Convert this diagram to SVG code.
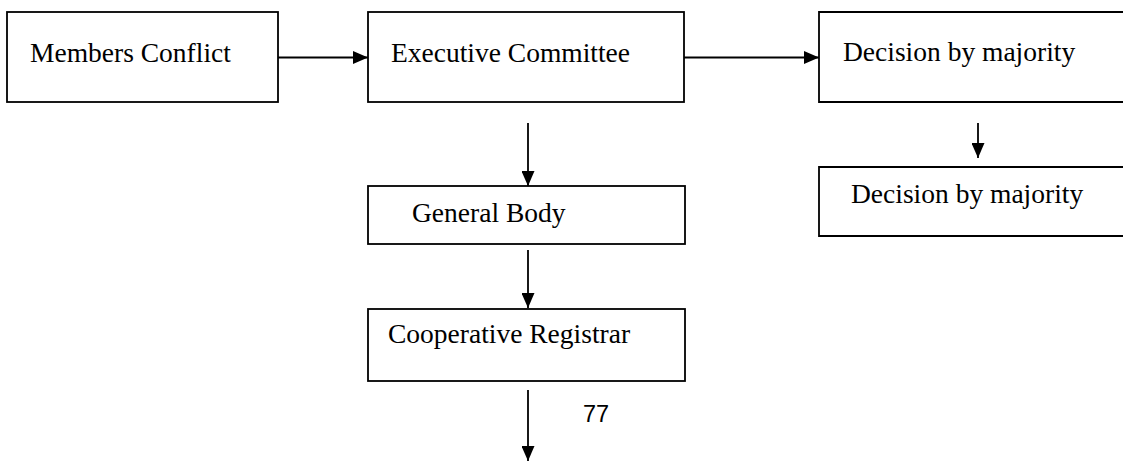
<svg xmlns="http://www.w3.org/2000/svg" width="1123" height="461" viewBox="0 0 1123 461">
<style>
.box{fill:#fff;stroke:#000;stroke-width:1.8}
.t{font-family:"Liberation Serif","Times New Roman",serif;font-size:27.5px;fill:#000}
.c{stroke:#000;stroke-width:1.8;fill:none;marker-end:url(#ah)}
.n{font-family:"Liberation Sans",Arial,sans-serif;font-size:23.5px;fill:#000}
</style>
<defs>
<marker id="ah" markerUnits="userSpaceOnUse" markerWidth="16" markerHeight="13" refX="15" refY="6.5" orient="auto">
<path d="M0,0 L15,6.5 L0,13 Z" fill="#000"/>
</marker>
</defs>
<rect width="1123" height="461" fill="#fff"/>
<g id="connectors">
<line class="c" x1="278" y1="57.5" x2="368" y2="57.5"/>
<line class="c" x1="684" y1="57.5" x2="819" y2="57.5"/>
<line class="c" x1="528" y1="123" x2="528" y2="186"/>
<line class="c" x1="528" y1="250" x2="528" y2="308"/>
<line class="c" x1="528" y1="390" x2="528" y2="461"/>
<line class="c" x1="978" y1="123" x2="978" y2="158"/>
</g>
<g id="members">
<rect class="box" x="7" y="12" width="271" height="90"/>
<text class="t" x="30" y="62">Members Conflict</text>
</g>
<g id="executive">
<rect class="box" x="368" y="12" width="316" height="90"/>
<text class="t" x="391" y="62">Executive Committee</text>
</g>
<g id="decision1">
<path class="box" d="M1124,12 H819 V102 H1124"/>
<text class="t" x="843" y="61">Decision by majority</text>
</g>
<g id="decision2">
<path class="box" d="M1124,167 H819 V236 H1124"/>
<text class="t" x="851" y="203">Decision by majority</text>
</g>
<g id="general">
<rect class="box" x="368" y="186" width="317" height="58"/>
<text class="t" x="412" y="222">General Body</text>
</g>
<g id="registrar">
<rect class="box" x="368" y="309" width="317" height="72"/>
<text class="t" x="388" y="343">Cooperative Registrar</text>
</g>
<text class="n" x="583" y="422">77</text>
</svg>
